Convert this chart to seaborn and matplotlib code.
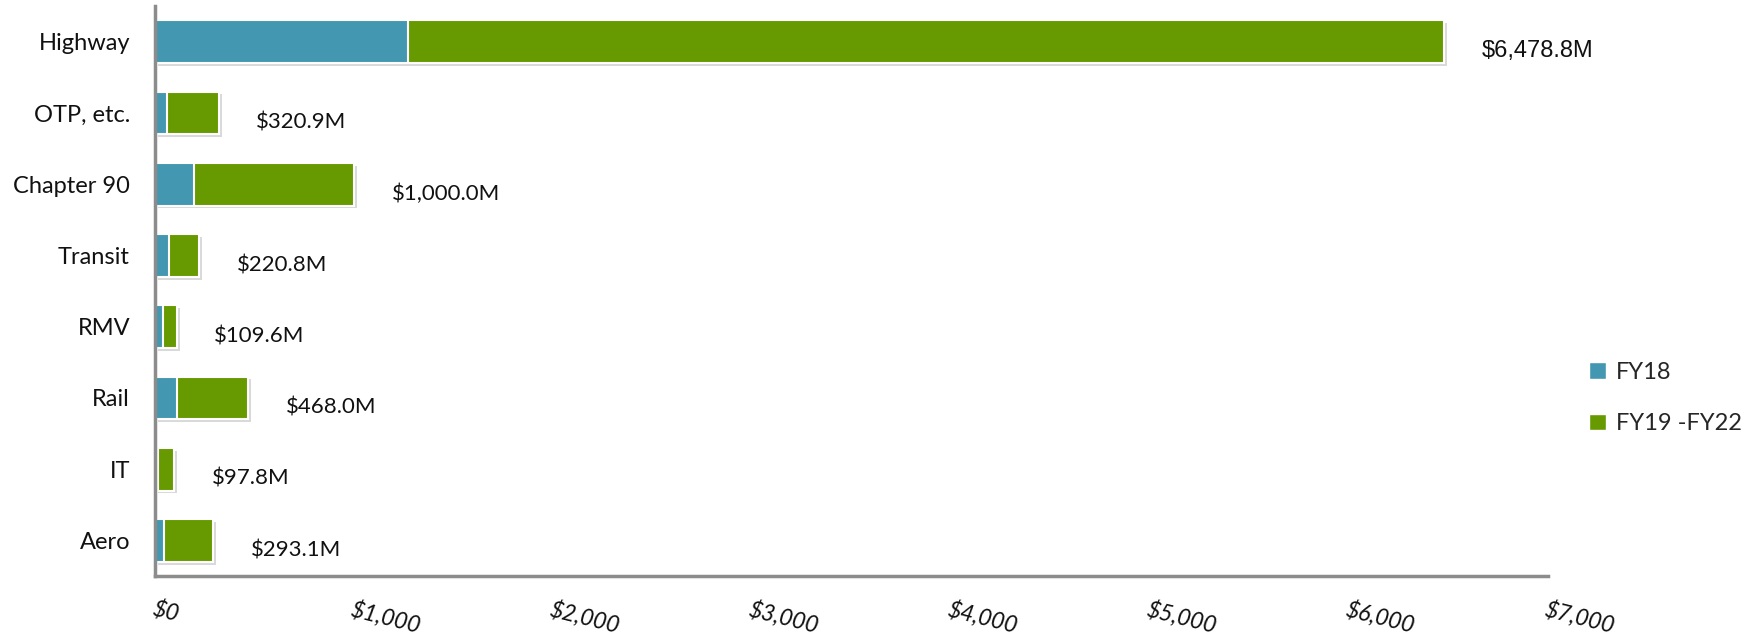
import numpy as np
import pandas as pd
import matplotlib
matplotlib.use("Agg")
import matplotlib.pyplot as plt
import matplotlib.patheffects as pe
from matplotlib.patches import Patch
import seaborn as sns

categories = ["Highway", "OTP, etc.", "Chapter 90", "Transit", "RMV", "Rail", "IT", "Aero"]
fy18 = [1271, 59, 196, 69, 39, 110, 13, 47]
totals = [6478.8, 320.9, 1000.0, 220.8, 109.6, 468.0, 97.8, 293.1]
total_labels = ["$6,478.8M", "$320.9M", "$1,000.0M", "$220.8M", "$109.6M", "$468.0M", "$97.8M", "$293.1M"]
xticks = [0, 1000, 2000, 3000, 4000, 5000, 6000, 7000]
xtick_labels = ["$0", "$1,000", "$2,000", "$3,000", "$4,000", "$5,000", "$6,000", "$7,000"]
series_names = ["FY18", "FY19 -FY22"]

C_FY18 = "#4397B0"
C_REST = "#669A00"
GRAY = "#8C8C8C"

sns.set_theme(style="white")
plt.rcParams["font.family"] = ["Lato", "DejaVu Sans"]

df = pd.DataFrame({"cat": categories, "fy18": fy18, "total": totals})

fig = plt.figure(figsize=(17.48, 6.37), dpi=100)
ax = fig.add_axes([155 / 1748, 1 - 576 / 637, (1548 - 155) / 1748, (576 - 6) / 637])

shadow = [pe.SimplePatchShadow(offset=(2, -2), shadow_rgbFace="#000000", alpha=0.15), pe.Normal()]

sns.barplot(data=df, y="cat", x="total", orient="h", color=C_REST, saturation=1,
            width=0.6, edgecolor="white", linewidth=1.5, ax=ax)
for p in ax.patches:
    p.set_path_effects(shadow)
sns.barplot(data=df, y="cat", x="fy18", orient="h", color=C_FY18, saturation=1,
            width=0.6, edgecolor="white", linewidth=1.5, ax=ax)

for i, (t, lab) in enumerate(zip(totals, total_labels)):
    if i == 0:
        fam, fs = ["Liberation Sans", "DejaVu Sans"], 17
    else:
        fam, fs = ["Lato", "DejaVu Sans"], 16
    ax.annotate(lab, xy=(t, i), xytext=(27, -7), textcoords="offset points",
                ha="left", va="center", fontsize=fs, color="#111111", family=fam)

ax.set_xlim(0, 7000)
ax.set_ylim(len(categories) - 0.5, -0.5)
ax.set_xlabel("")
ax.set_ylabel("")

ax.set_xticks(xticks)
ax.set_xticklabels(xtick_labels, rotation=-14, ha="left", rotation_mode="anchor",
                   fontsize=16.5, style="italic", color="#111111")
ax.tick_params(axis="x", which="major", length=7, width=2.5, color=GRAY, direction="out", pad=9)

ax.set_yticks(range(len(categories)))
ax.set_yticklabels(categories, fontsize=17, color="#111111")
ax.tick_params(axis="y", which="major", length=0, pad=18)
ax.set_yticks(np.arange(-0.5, len(categories), 1), minor=True)
ax.tick_params(axis="y", which="minor", length=8, width=2.5, color=GRAY, direction="out")

for s in ["top", "right"]:
    ax.spines[s].set_visible(False)
for s in ["left", "bottom"]:
    ax.spines[s].set_color(GRAY)
    ax.spines[s].set_linewidth(2.5)

handles = [Patch(facecolor=C_FY18, edgecolor="white"), Patch(facecolor=C_REST, edgecolor="white")]
fig.legend(handles, series_names, loc="center left", bbox_to_anchor=(1589 / 1748, 1 - 398 / 637),
           frameon=False, fontsize=17, handlelength=0.7, handleheight=0.7,
           handletextpad=0.45, labelspacing=1.3, borderpad=0, borderaxespad=0)

fig.savefig("out.png", dpi=100)
